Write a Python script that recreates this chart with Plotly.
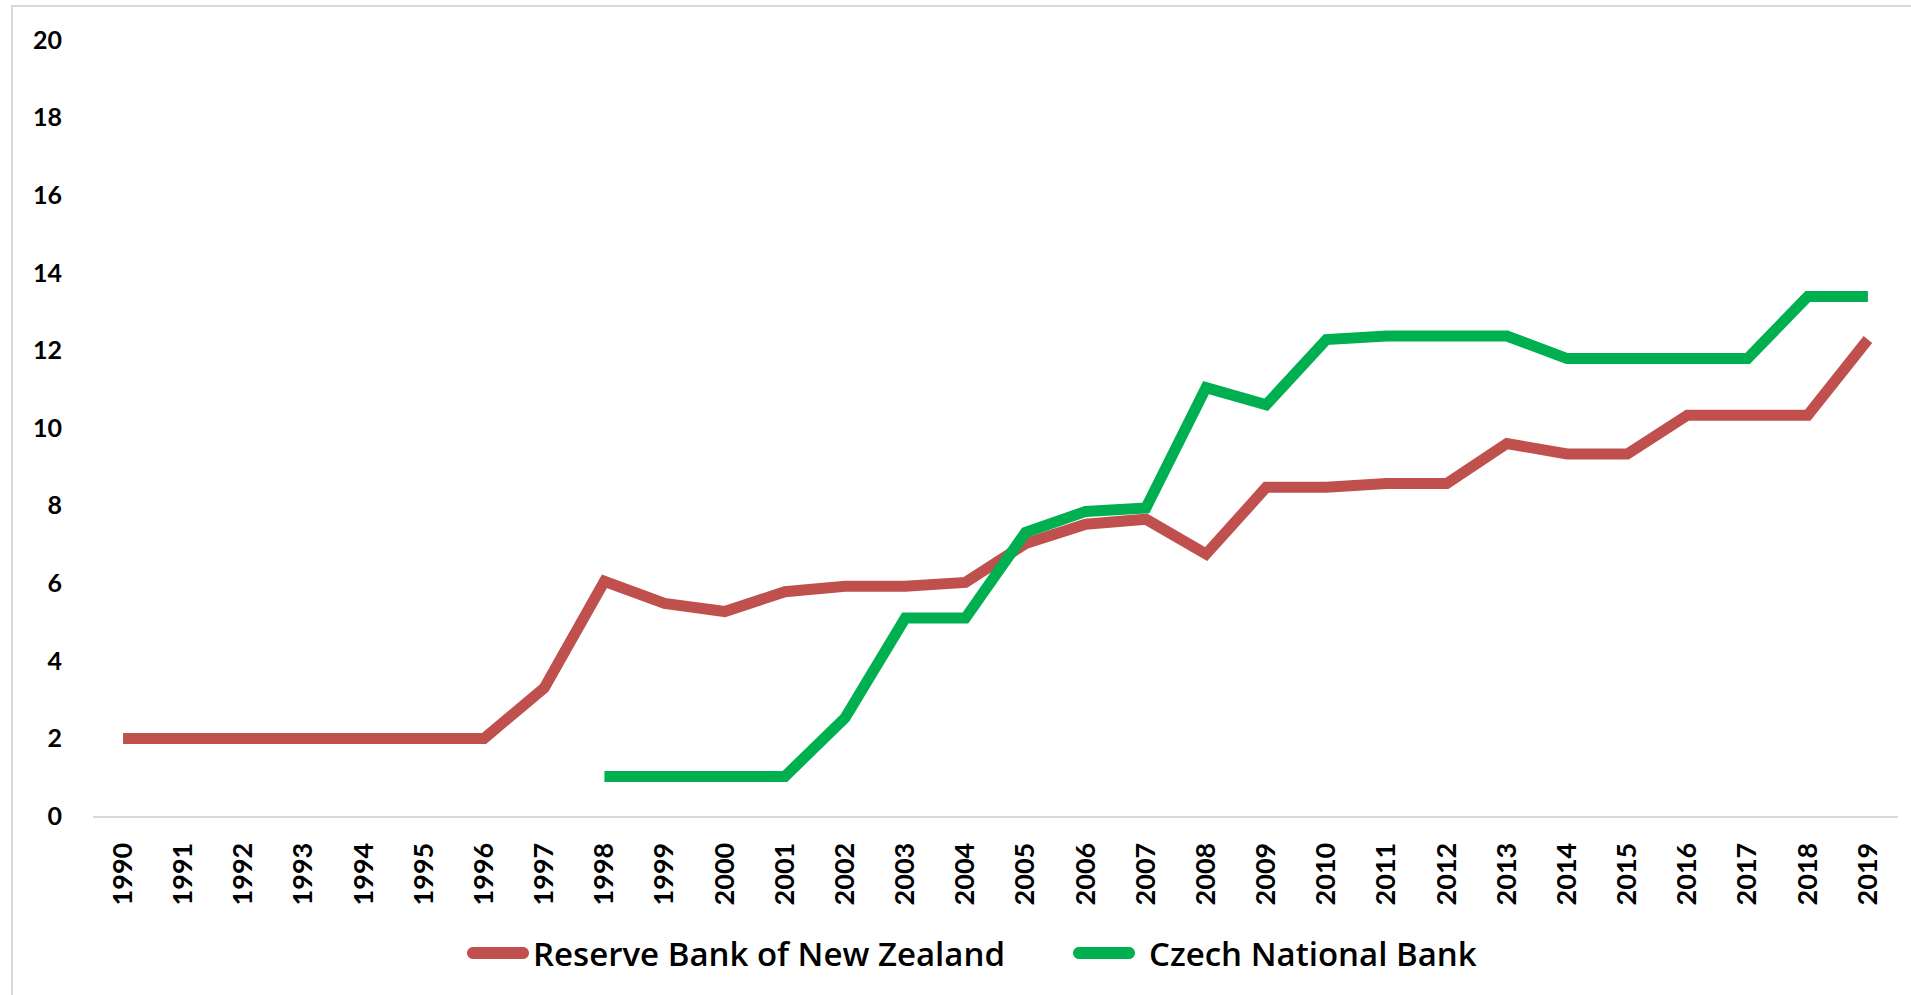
import plotly.graph_objects as go

years = [str(y) for y in range(1990, 2020)]
rbnz = [2.0, 2.0, 2.0, 2.0, 2.0, 2.0, 2.0, 3.3, 6.05, 5.48, 5.27, 5.78, 5.92, 5.92, 6.02,
        7.02, 7.52, 7.65, 6.75, 8.47, 8.47, 8.57, 8.57, 9.6, 9.33, 9.33, 10.33, 10.33, 10.33, 12.28]
cnb = [None, None, None, None, None, None, None, None, 1.02, 1.02, 1.02, 1.02, 2.53, 5.1, 5.1,
       7.31, 7.85, 7.94, 11.04, 10.6, 12.28, 12.37, 12.37, 12.37, 11.79, 11.79, 11.79, 11.79, 13.39, 13.39]
series_names = ["Reserve Bank of New Zealand", "Czech National Bank"]
series_colors = ["#C0504D", "#00B050"]
y_ticks = list(range(0, 21, 2))

W, H = 1911, 995
L, R, T, B = 93, 13, 40, 179
PW, PH = W - L - R, H - T - B


def px(x):
    return (x - L) / PW


def py(y):
    return (H - B - y) / PH


fig = go.Figure()
for name, vals, col in zip(series_names, [rbnz, cnb], series_colors):
    fig.add_trace(go.Scatter(x=years, y=vals, name=name, mode="lines",
                             line=dict(color=col, width=11), showlegend=False,
                             connectgaps=False))

shapes = [
    dict(type="rect", xref="paper", yref="paper", x0=px(12), x1=px(W + 20),
         y0=py(H + 20), y1=py(6), line=dict(color="#d9d9d9", width=2), fillcolor="rgba(0,0,0,0)",
         layer="below"),
]
annotations = []
legend_pos = [(467, 531), (1073, 1147)]
ly = 953
cap = ("M 6,-6 L 56,-6 C 59.3,-6 62,-3.3 62,0 C 62,3.3 59.3,6 56,6 "
       "L 6,6 C 2.7,6 0,3.3 0,0 C 0,-3.3 2.7,-6 6,-6 Z")
for (sx, tx), name, col in zip(legend_pos, series_names, series_colors):
    shapes.append(dict(type="path", xref="paper", yref="paper", xsizemode="pixel", ysizemode="pixel",
                       xanchor=px(sx), yanchor=py(ly), path=cap, fillcolor=col,
                       line=dict(color=col, width=0)))
    annotations.append(dict(text=name, xref="paper", yref="paper", x=px(tx), y=py(ly),
                            xanchor="left", yanchor="middle", showarrow=False,
                            font=dict(family="Open Sans", size=33, color="#000000", weight=600)))

fig.update_layout(
    width=W, height=H,
    margin=dict(l=L, r=R, t=T, b=B, pad=0),
    paper_bgcolor="white", plot_bgcolor="white",
    shapes=shapes, annotations=annotations,
    xaxis=dict(type="category", range=[-0.5, 29.5], showgrid=False, zeroline=False,
               showline=True, linecolor="#d9d9d9", linewidth=2, ticks="",
               tickangle=-90, ticklabelstandoff=14,
               tickfont=dict(family="Lato", size=27, color="#000000", weight="bold")),
    yaxis=dict(range=[0, 20], tickvals=y_ticks, ticktext=[str(v) for v in y_ticks],
               showgrid=False, zeroline=False, showline=False, ticks="",
               ticklabelstandoff=30,
               tickfont=dict(family="Lato", size=25, color="#000000", weight="bold")),
)

fig.write_html("out.html")
